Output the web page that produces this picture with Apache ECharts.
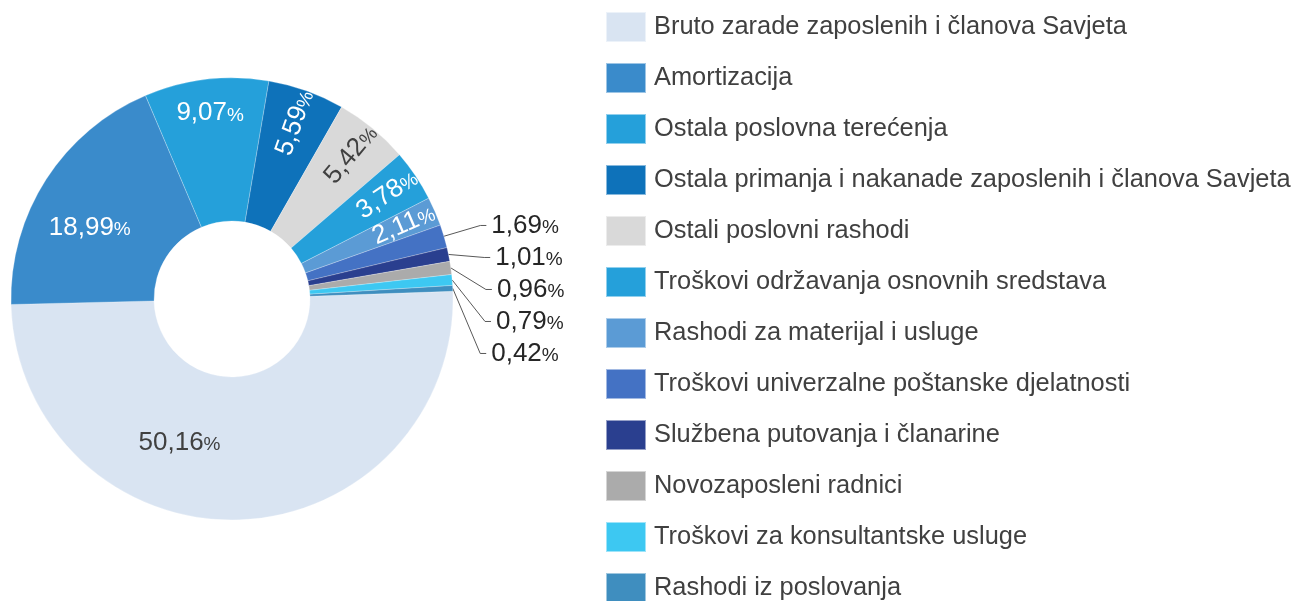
<!DOCTYPE html>
<html>
<head>
<meta charset="utf-8">
<script src="https://cdn.jsdelivr.net/npm/echarts@6/dist/echarts.min.js"></script>
<style>html,body{margin:0;padding:0;background:#fff;}#c{width:1298px;height:601px;}</style>
</head>
<body>
<div id="c"></div>
<script>
const categories = [
  'Bruto zarade zaposlenih i članova Savjeta',
  'Amortizacija',
  'Ostala poslovna terećenja',
  'Ostala primanja i nakanade zaposlenih i članova Savjeta',
  'Ostali poslovni rashodi',
  'Troškovi održavanja osnovnih sredstava',
  'Rashodi za materijal i usluge',
  'Troškovi univerzalne poštanske djelatnosti',
  'Službena putovanja i članarine',
  'Novozaposleni radnici',
  'Troškovi za konsultantske usluge',
  'Rashodi iz poslovanja'
];
const values = [50.16, 18.99, 9.07, 5.59, 5.42, 3.78, 2.11, 1.69, 1.01, 0.96, 0.79, 0.42];
const palette = ['#D9E4F2', '#3A8BCB', '#25A0DA', '#0E72BA', '#D9D9D9', '#25A0DA', '#5B9BD5', '#4472C4', '#2A3F8F', '#ABABAB', '#3DC8F2', '#3F8EBF'];

const FONT = 'Liberation Sans, Arial, sans-serif';
const fmt = v => '{n|' + v.toFixed(2).replace('.', ',') + '}{p|%}';
const rich = (c) => ({
  n: {fontSize: 26, color: c, fontFamily: FONT, lineHeight: 30},
  p: {fontSize: 19, color: c, fontFamily: FONT, lineHeight: 30, padding: [5, 0, 0, 0]}
});

const mainData = values.map((v, i) => {
  const d = {name: categories[i], value: v, itemStyle: {color: palette[i]}};
  if (i === 0) {
    d.label = {show: true, position: 'inside', rich: rich('#404040'), offset: [-57, -9]};
  } else if (i === 1) {
    d.label = {show: true, position: 'inside', rich: rich('#ffffff'), offset: [-14, 11]};
  } else if (i >= 7) {
    d.label = {show: true, position: 'outside', rich: rich('#262626')};
    d.labelLine = {show: true};
  } else {
    d.label = {show: false};
  }
  return d;
});

const overlayData = values.map((v, i) => {
  const d = {name: categories[i], value: v};
  if (i >= 2 && i <= 6) {
    const c = i === 4 ? '#404040' : '#ffffff';
    d.label = {show: true, position: 'inside', rich: rich(c), rotate: i === 2 ? 0 : 'radial'};
  } else {
    d.label = {show: false};
  }
  return d;
});

const START = 2;
const chart = echarts.init(document.getElementById('c'));
chart.setOption({
  backgroundColor: '#ffffff',
  animation: false,
  legend: {
    orient: 'vertical',
    left: 600,
    top: 6,
    height: 640,
    itemWidth: 40,
    itemHeight: 30,
    itemGap: 19,
    icon: 'rect',
    selectedMode: false,
    data: categories,
    textStyle: {fontSize: 25.4, color: '#404040', fontFamily: FONT, padding: [0, 0, 0, 3]}
  },
  series: [
    {
      type: 'pie',
      center: [232, 299],
      radius: [78, 221],
      startAngle: START,
      clockwise: true,
      avoidLabelOverlap: true,
      itemStyle: {borderColor: 'rgba(255,255,255,0.5)', borderWidth: 0.5},
      label: {formatter: p => fmt(p.value), minMargin: 6},
      labelLine: {length: 38, length2: 6, lineStyle: {color: '#595959', width: 1}},
      emphasis: {disabled: true},
      data: mainData
    },
    {
      type: 'pie',
      center: [232, 299],
      radius: [78, 290],
      startAngle: START,
      clockwise: true,
      silent: true,
      itemStyle: {color: 'rgba(0,0,0,0)'},
      label: {formatter: p => fmt(p.value)},
      labelLine: {show: false},
      emphasis: {disabled: true},
      data: overlayData
    }
  ]
});
</script>
</body>
</html>
